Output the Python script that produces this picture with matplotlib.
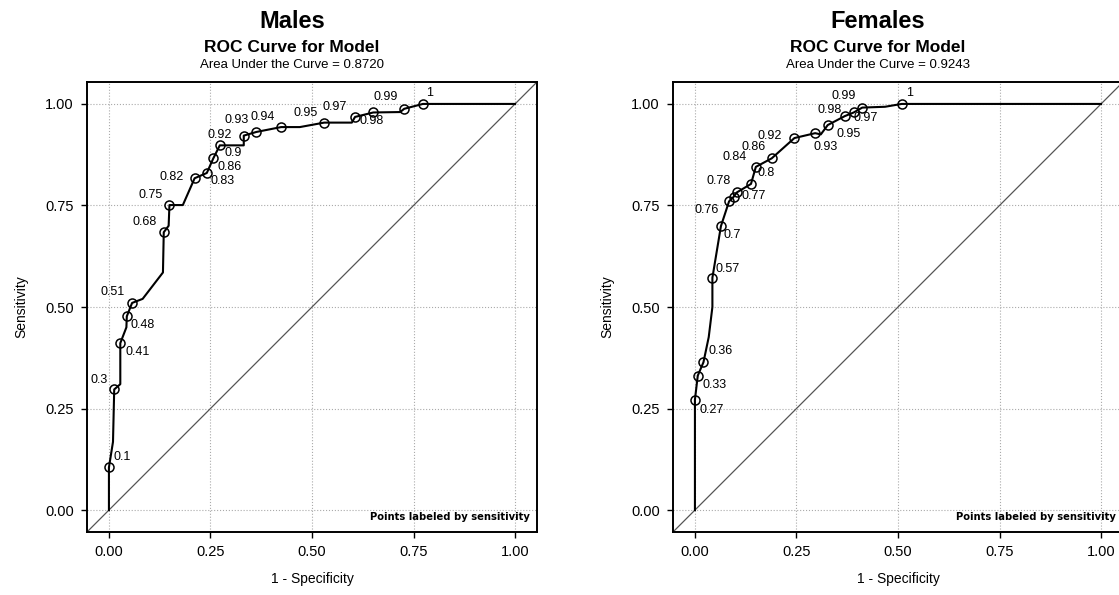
import matplotlib
matplotlib.use('Agg')
import matplotlib.pyplot as plt

plt.rcParams['font.family'] = ['Liberation Sans', 'DejaVu Sans']

# ROC path (1 - specificity, sensitivity) for each group
males_fpr = [0.0, 0.0, 0.010, 0.013, 0.028, 0.028, 0.043, 0.044, 0.057, 0.083, 0.133, 0.135,
             0.147, 0.149, 0.182, 0.211, 0.241, 0.257, 0.273, 0.332, 0.332, 0.363, 0.424,
             0.470, 0.530, 0.598, 0.606, 0.651, 0.717, 0.727, 0.773, 1.0]
males_tpr = [0.0, 0.105, 0.168, 0.297, 0.310, 0.411, 0.450, 0.477, 0.510, 0.520, 0.585, 0.684,
             0.700, 0.751, 0.751, 0.817, 0.830, 0.866, 0.898, 0.898, 0.922, 0.931, 0.943,
             0.943, 0.954, 0.954, 0.968, 0.979, 0.980, 0.988, 1.0, 1.0]

# labelled points
males_pt_fpr = [0.0, 0.013, 0.028, 0.044, 0.057, 0.135, 0.149, 0.211, 0.241, 0.257, 0.273,
                0.332, 0.363, 0.424, 0.530, 0.606, 0.651, 0.727, 0.773]
males_pt_tpr = [0.105, 0.297, 0.411, 0.477, 0.510, 0.684, 0.751, 0.817, 0.830, 0.866, 0.898,
                0.922, 0.931, 0.943, 0.954, 0.968, 0.979, 0.988, 1.0]
males_pt_labels = ['0.1', '0.3', '0.41', '0.48', '0.51', '0.68', '0.75', '0.82', '0.83', '0.86',
                   '0.9', '0.92', '0.93', '0.94', '0.95', '0.97', '0.98', '0.99', '1']

females_fpr = [0.0, 0.0, 0.007, 0.021, 0.034, 0.043, 0.043, 0.064, 0.084, 0.095, 0.103, 0.138,
               0.150, 0.189, 0.245, 0.296, 0.310, 0.327, 0.369, 0.391, 0.412, 0.468, 0.509, 1.0]
females_tpr = [0.0, 0.272, 0.331, 0.364, 0.426, 0.500, 0.572, 0.699, 0.760, 0.771, 0.782, 0.803,
               0.845, 0.866, 0.916, 0.928, 0.925, 0.948, 0.970, 0.979, 0.991, 0.993, 1.0, 1.0]

females_pt_fpr = [0.0, 0.007, 0.021, 0.043, 0.064, 0.084, 0.095, 0.103, 0.138, 0.150, 0.189,
                  0.245, 0.296, 0.327, 0.369, 0.391, 0.412, 0.509]
females_pt_tpr = [0.272, 0.331, 0.364, 0.572, 0.699, 0.760, 0.771, 0.782, 0.803, 0.845, 0.866,
                  0.916, 0.928, 0.948, 0.970, 0.979, 0.991, 1.0]
females_pt_labels = ['0.27', '0.33', '0.36', '0.57', '0.7', '0.76', '0.77', '0.78', '0.8', '0.84',
                     '0.86', '0.92', '0.93', '0.95', '0.97', '0.98', '0.99', '1']

# label placement (pixel offset of label centre from its point)
males_lab_off = [(13, 10), (-15, 9), (17, -9), (16, -9), (-19, 11), (-19, 10), (-19, 10),
                 (-23, 1), (16, -8), (16, -9), (13, -8), (-24, 1), (-20, 12), (-18, 10),
                 (-19, 10), (-20, 10), (-2, -9), (-19, 12), (7, 11)]
females_lab_off = [(17, -10), (17, -9), (17, 11), (15, 9), (11, -9), (-22, -9), (20, 1),
                   (-18, 11), (15, 11), (-21, 10), (-18, 11), (-25, 2), (10, -14), (21, -9),
                   (21, -2), (-24, 2), (-19, 12), (8, 11)]

titles = ['Males', 'Females']
auc = ['0.8720', '0.9243']
ticks = [0.0, 0.25, 0.5, 0.75, 1.0]

fig = plt.figure(figsize=(11.19, 5.95), dpi=100)
W, H = 1119.0, 595.0
axes_px = [(87, 82), (673, 82)]
lo, hi = -0.054, 1.054

data = [(males_fpr, males_tpr, males_pt_fpr, males_pt_tpr, males_pt_labels, males_lab_off),
        (females_fpr, females_tpr, females_pt_fpr, females_pt_tpr, females_pt_labels, females_lab_off)]

for i, (fx, fy, px, py, labs, offs) in enumerate(data):
    x0, y0 = axes_px[i]
    ax = fig.add_axes([x0 / W, 1 - (y0 + 450) / H, 450 / W, 450 / H])
    ax.set_xlim(lo, hi)
    ax.set_ylim(lo, hi)
    ax.plot([lo, hi], [lo, hi], color='#555555', lw=0.9, zorder=2)
    ax.plot(fx, fy, color='black', lw=1.5, zorder=3)
    ax.plot(px, py, 'o', ms=6.5, mfc='none', mec='black', mew=1.1, zorder=4)
    for x, y, s, (dx, dy) in zip(px, py, labs, offs):
        ax.annotate(s, (x, y), xytext=(dx, dy), textcoords='offset pixels',
                    ha='center', va='center', fontsize=9, zorder=5)
    ax.set_xticks(ticks)
    ax.set_yticks(ticks)
    ax.set_xticklabels(['%.2f' % t for t in ticks])
    ax.set_yticklabels(['%.2f' % t for t in ticks])
    ax.grid(True, linestyle=':', color='#aaaaaa', lw=0.8)
    ax.set_axisbelow(True)
    ax.tick_params(length=4.5, width=1, labelsize=10.5, pad=5, color='black')
    for sp in ax.spines.values():
        sp.set_linewidth(1.4)
    ax.set_xlabel('1 - Specificity', fontsize=10, labelpad=9)
    ax.set_ylabel('Sensitivity', fontsize=10, labelpad=12)
    ax.text(0.985, 0.022, 'Points labeled by sensitivity', transform=ax.transAxes,
            ha='right', va='bottom', fontsize=7.2, fontweight='bold', family='DejaVu Sans')

    cx = (x0 + 225 - 20) / W
    fig.text(cx, 1 - 28 / H, titles[i], ha='center', va='baseline', fontsize=17, fontweight='bold')
    fig.text(cx, 1 - 52 / H, 'ROC Curve for Model', ha='center', va='baseline', fontsize=12.5,
             fontweight='bold')
    fig.text(cx, 1 - 68 / H, 'Area Under the Curve = ' + auc[i], ha='center', va='baseline',
             fontsize=9.5)

fig.savefig('out.png', dpi=100)
